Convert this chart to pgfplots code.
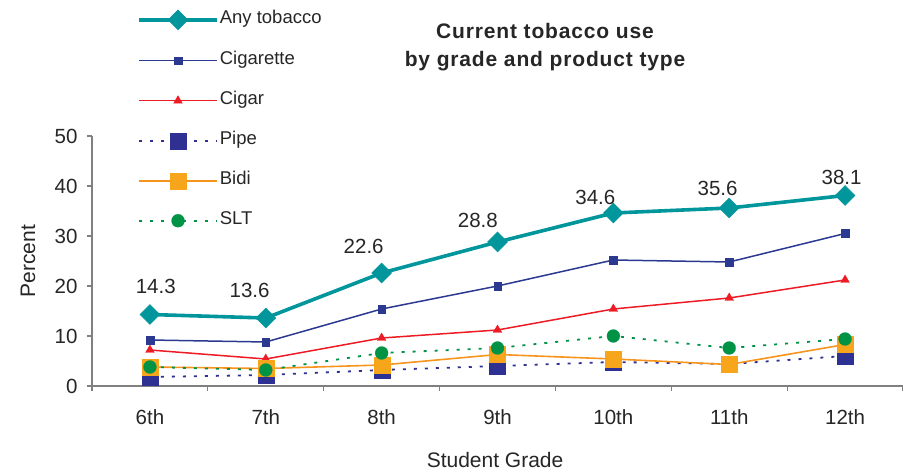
\documentclass[border=0pt]{standalone}
\usepackage{pgfplots}
\pgfplotsset{compat=1.18}
\usepackage{fontspec}
\setmainfont{Liberation Sans}

\definecolor{anycol}{RGB}{0,150,155}
\definecolor{cigcol}{RGB}{43,57,144}
\definecolor{cigarcol}{RGB}{237,28,36}
\definecolor{pipecol}{RGB}{46,49,146}
\definecolor{bidicol}{RGB}{247,148,29}
\definecolor{bidimark}{RGB}{247,166,27}
\definecolor{sltcol}{RGB}{0,146,69}
\definecolor{axcol}{RGB}{128,128,128}

\newcommand{\lblfont}{\fontsize{20.5}{24}\selectfont}
\newcommand{\legfont}{\fontsize{18.5}{22}\selectfont}

\begin{document}
\begin{tikzpicture}
\path[use as bounding box] (-92pt,-85pt) rectangle (811pt,386pt);
\begin{axis}[
    at={(0,0)}, anchor=south west,
    scale only axis,
    width=811pt, height=250pt,
    xmin=-0.5, xmax=6.5,
    ymin=0, ymax=50,
    axis x line*=bottom,
    axis y line*=left,
    axis line style={draw=axcol, line width=1.2pt},
    every outer x axis line/.append style={-},
    every outer y axis line/.append style={-},
    ytick={0,10,...,50},
    xtick={-0.5,0.5,...,6.5},
    xticklabels={},
    extra x ticks={0,1,2,3,4,5,6},
    extra x tick labels={6th,7th,8th,9th,10th,11th,12th},
    extra x tick style={major tick length=0pt, xticklabel style={yshift=-20pt}},
    tick align=outside,
    major tick length=5pt,
    tick style={draw=axcol, line width=1.2pt},
    /pgf/number format/assume math mode=true,
    ticklabel style={font=\lblfont, text=black!85},
    yticklabel style={xshift=-6pt},
    xlabel={Student Grade},
    ylabel={Percent},
    label style={font=\fontsize{21}{24}\selectfont, text=black!85},
    xlabel style={at={(axis description cs:0.497,0)}, anchor=center, yshift=-74pt},
    ylabel style={at={(axis description cs:0,0.5)}, anchor=center, xshift=0pt, yshift=64pt},
    title={Current tobacco use\\by grade and product type},
    title style={at={(axis description cs:0.5586,1.33)}, anchor=center, align=center,
                 font=\bfseries\fontsize{21}{28}\selectfont\addfontfeatures{LetterSpace=4},
                 text=black!85},
    clip=false,
    legend cell align=left,
    legend style={at={(axis description cs:0.0555,1.505)}, anchor=north west,
                  draw=none, fill=none, inner sep=0pt, row sep=22pt,
                  /tikz/every even column/.append style={column sep=4pt},
                  font=\legfont, text=black!85,
                  nodes={inner sep=1pt, text height=12pt, text depth=4pt}},
    legend image code/.code={
        \draw[mark repeat=2, mark phase=2, #1]
            plot coordinates {(0pt,0pt) (39pt,0pt) (78pt,0pt)};
    },
]
\addplot[anycol, line width=3.6pt, mark=square*, mark size=7pt,
         mark options={rotate=45, solid, line width=0.5pt}]
    coordinates {(0,14.3) (1,13.6) (2,22.6) (3,28.8) (4,34.6) (5,35.6) (6,38.1)};
\addlegendentry{Any tobacco}
\addplot[cigcol, line width=1.5pt, mark=square*, mark size=3.8pt, mark options={solid, line width=0.4pt}]
    coordinates {(0,9.2) (1,8.8) (2,15.4) (3,20.0) (4,25.2) (5,24.8) (6,30.5)};
\addlegendentry{Cigarette}
\addplot[cigarcol, line width=1.5pt, mark=triangle*, mark size=5pt, mark options={solid, line width=0.4pt}]
    coordinates {(0,7.2) (1,5.4) (2,9.6) (3,11.2) (4,15.4) (5,17.6) (6,21.2)};
\addlegendentry{Cigar}
\addplot[pipecol, line width=1.8pt, dash pattern=on 3pt off 8pt, mark=square*, mark size=8pt,
         mark options={solid, line width=0.2pt}]
    coordinates {(0,1.8) (1,2.2) (2,3.2) (3,4.0) (4,4.8) (5,4.4) (6,6.0)};
\addlegendentry{Pipe}
\addplot[bidicol, line width=1.6pt, mark=square*, mark size=8pt,
         mark options={solid, draw=bidimark, fill=bidimark, line width=0.2pt}]
    coordinates {(0,3.8) (1,3.5) (2,4.2) (3,6.3) (4,5.4) (5,4.3) (6,8.3)};
\addlegendentry{Bidi}
\addplot[sltcol, line width=1.8pt, dash pattern=on 3pt off 8pt, mark=*, mark size=6.5pt,
         mark options={solid, line width=0.2pt}]
    coordinates {(0,3.8) (1,3.2) (2,6.6) (3,7.6) (4,10.0) (5,7.6) (6,9.4)};
\addlegendentry{SLT}
% value labels above the "Any tobacco" series
\addplot[draw=none, mark=none, forget plot,
         nodes near coords, point meta=explicit symbolic,
         nodes near coords style={anchor=center, font=\lblfont, text=black!85}]
    table[meta=lab] {
x     y    lab
0.05  20.0 14.3
0.86  19.2 13.6
1.845 28.0 22.6
2.83  33.2 28.8
3.845 37.8 34.6
4.9   39.6 35.6
5.97  41.8 38.1
};
\end{axis}
\end{tikzpicture}
\end{document}
